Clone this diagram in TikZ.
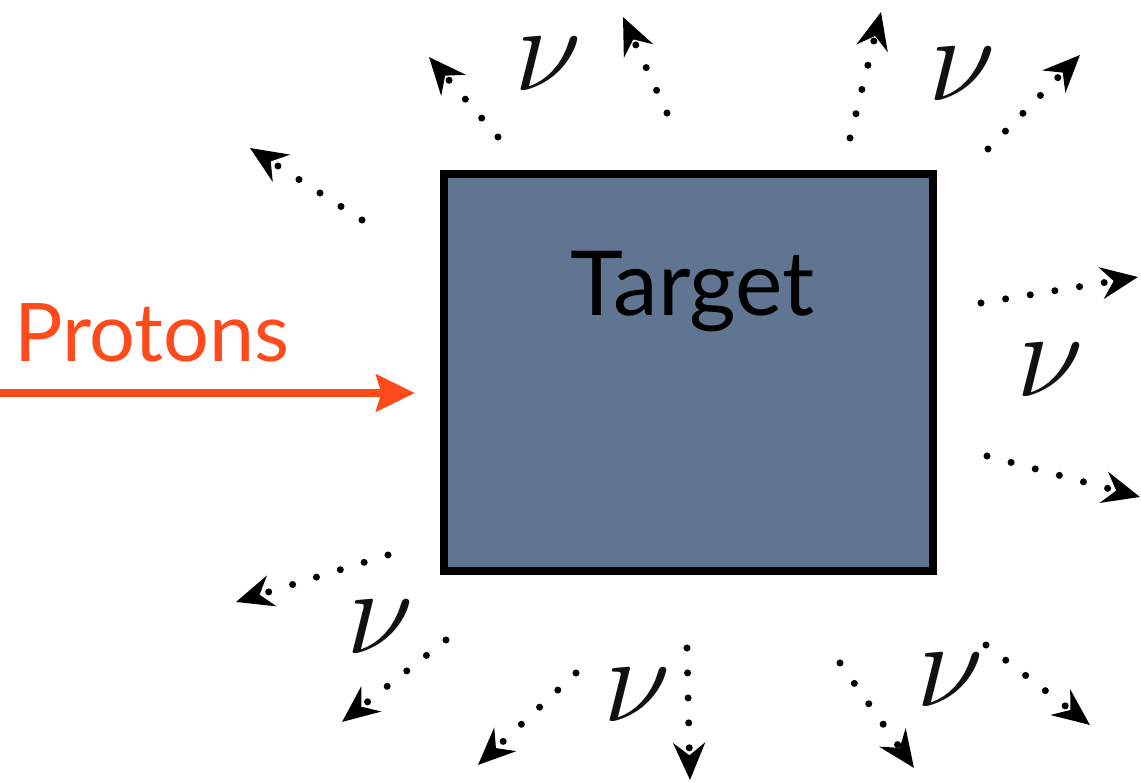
\RequirePackage{fix-cm}
\documentclass[tikz,border=0pt]{standalone}
\usepackage{fontspec}
\newfontfamily\gillfont{Lato}
\usetikzlibrary{arrows.meta,positioning}
\definecolor{TargetFill}{HTML}{5F7592}
\definecolor{ProtonRed}{HTML}{FF4A1C}
\definecolor{NuText}{HTML}{111111}
\tikzset{
  targetbox/.style={draw=black,fill=TargetFill,line width=2.3pt,minimum width=4.89cm,minimum height=3.97cm,inner sep=0pt},
  targetlabel/.style={font=\gillfont\fontsize{25.5}{30}\selectfont,text=black,inner sep=0pt},
  protonlabel/.style={font=\gillfont\fontsize{23}{27}\selectfont,text=ProtonRed,inner sep=0pt},
  protonarrow/.style={-{Stealth[length=11pt,width=10.5pt,inset=1.5pt]},line width=2pt,draw=ProtonRed},
  nuarrow/.style={-{Stealth[length=10.5pt,width=9pt,inset=3.5pt]},line width=2pt,line cap=round,dash pattern=on 0pt off 7.1pt,draw=black},
  nulabel/.style={font=\fontsize{35}{40}\selectfont,text=NuText,inner sep=0pt}
}
\begin{document}
\begin{tikzpicture}[x=0.01cm,y=-0.01cm]
\useasboundingbox (0,0) rectangle (1141,783);
\node[targetbox] (target) at (688.5,372.5) {};
\node[targetlabel] (tlabel) at (693,292) {Target};
\node[protonlabel] (plabel) at (152,333) {Protons};
\coordinate (pstart) at (0,393);
\draw[protonarrow,shorten >=0.25cm] (pstart) -- (target.west |- pstart);
% neutrinos leaving the target
\foreach \n/\sx/\sy/\ex/\ey in {1/498/137/429/57, 2/667/113/623/17, 3/850/138/881/12, 4/988/149/1080/55,
    5/362/220/250/148, 6/981/303/1138/277, 7/987/456/1140/497, 8/388/555/236/602,
    9/446/640/342/722, 10/576/673/478/765, 11/687/648/690/780, 12/840/663/914/768, 13/986/645/1090/725}{
  \coordinate (s\n) at (\sx,\sy);
  \coordinate (e\n) at (\ex,\ey);
  \draw[nuarrow] (s\n) -- (e\n);
}
\node[nulabel] (nu1) at (548,64) {$\nu$};
\node[nulabel] (nu2) at (962,74) {$\nu$};
\node[nulabel] (nu3) at (1050,370) {$\nu$};
\node[nulabel] (nu4) at (380,627) {$\nu$};
\node[nulabel] (nu5) at (637,695) {$\nu$};
\node[nulabel] (nu6) at (950,680) {$\nu$};
\end{tikzpicture}
\end{document}
